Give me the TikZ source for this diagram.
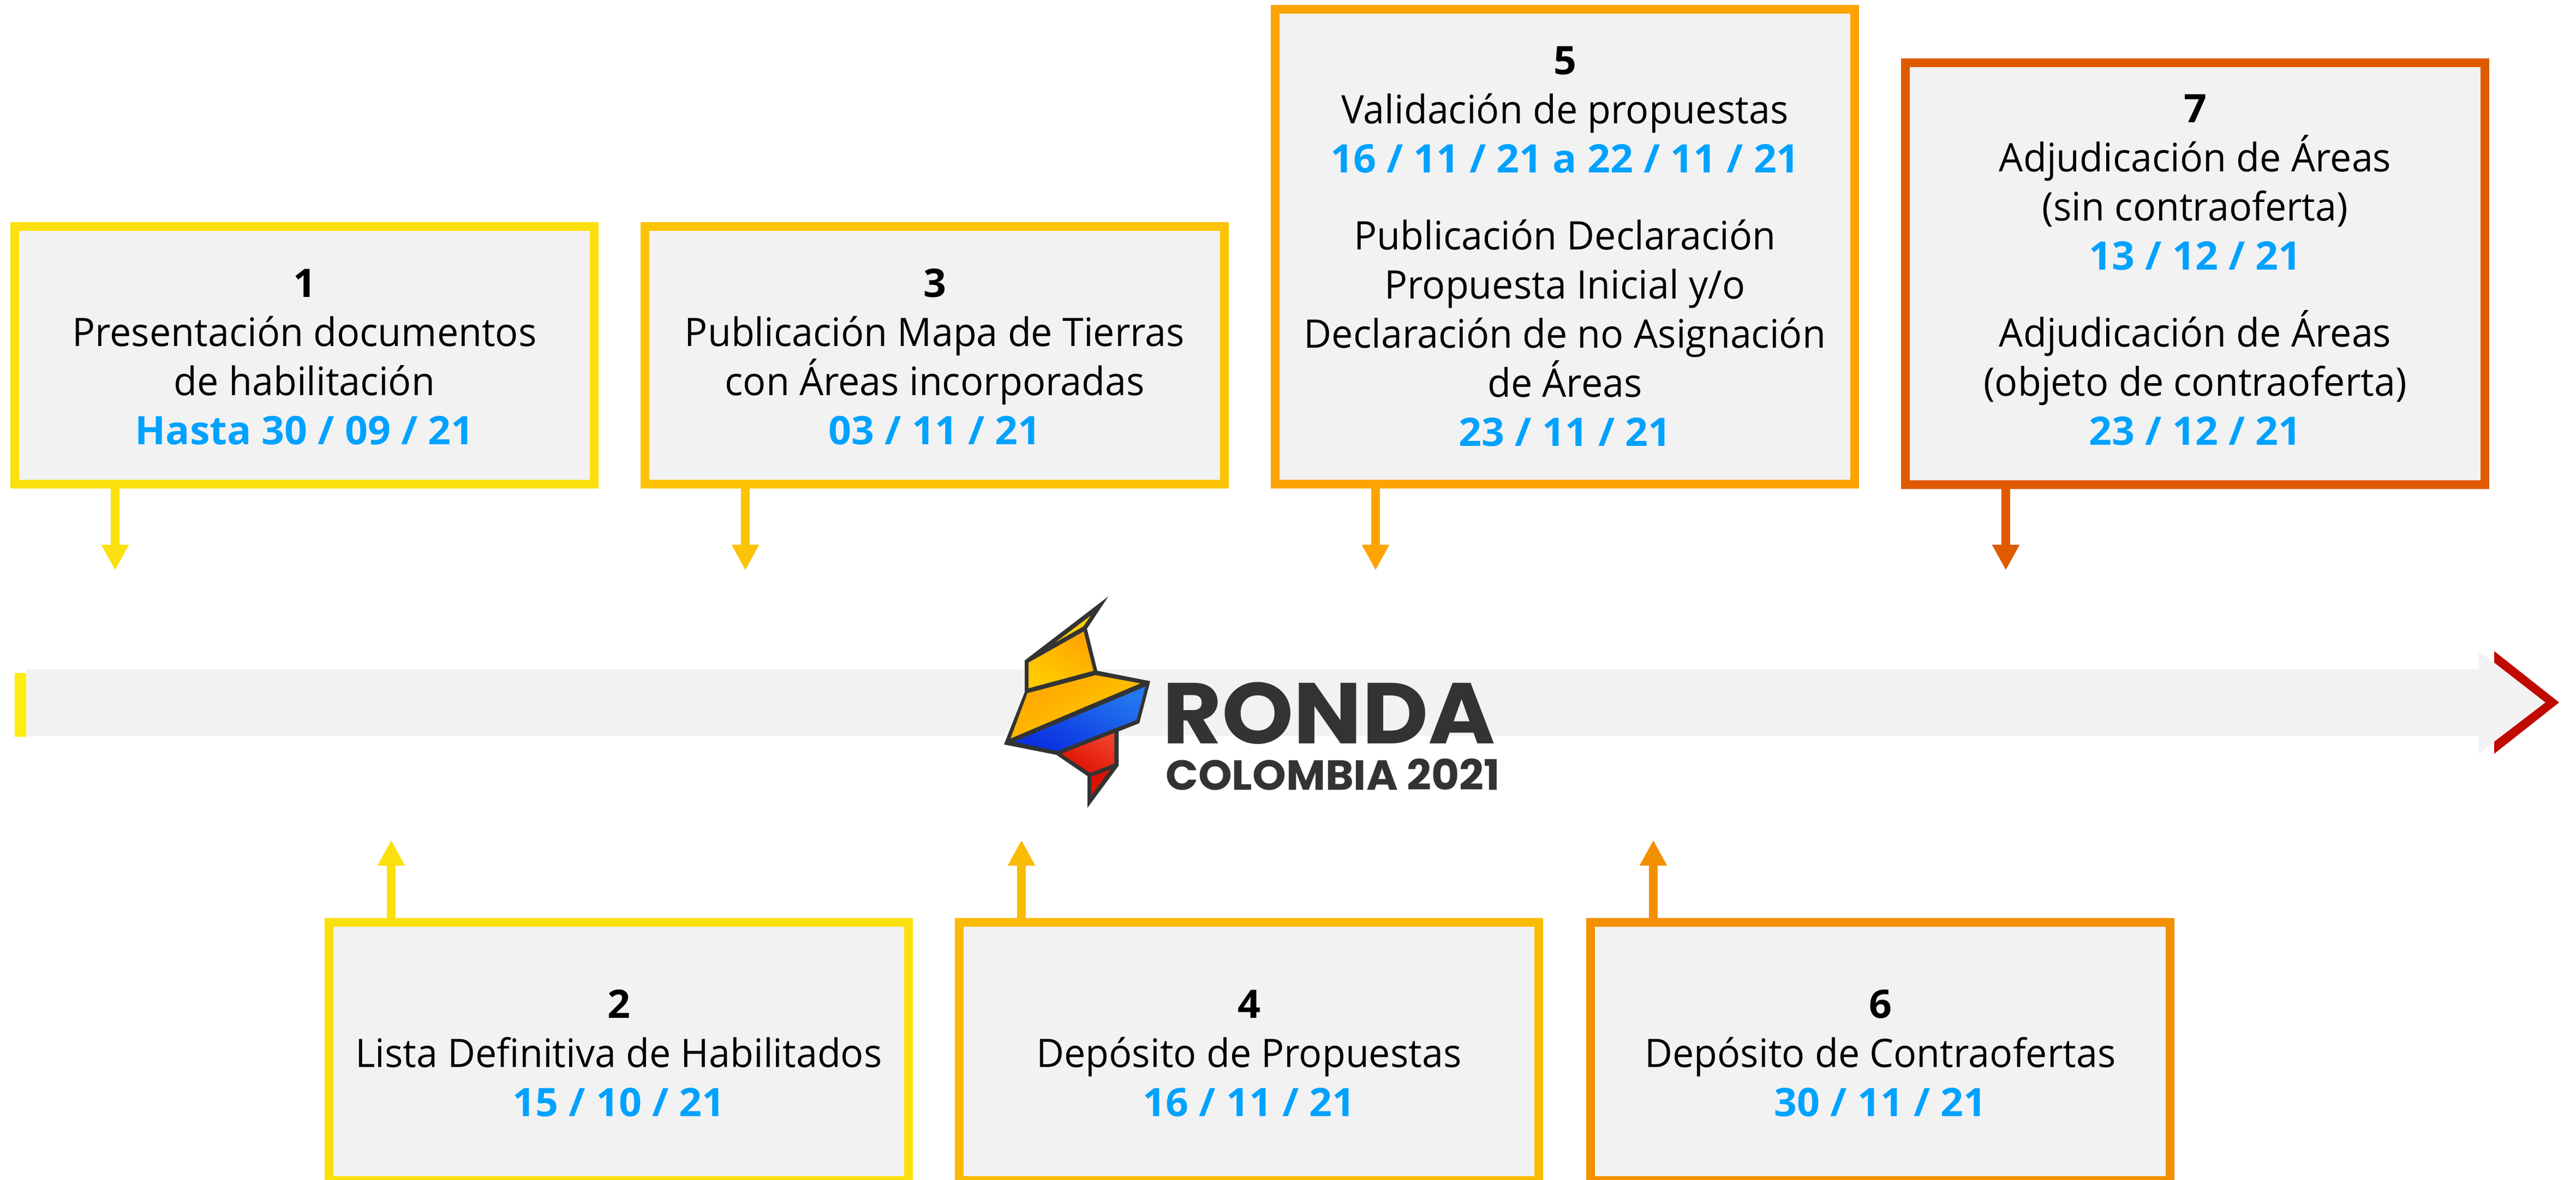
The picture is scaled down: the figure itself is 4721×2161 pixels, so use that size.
\documentclass[tikz,border=0pt]{standalone}
\usepackage{fontspec}
\setmainfont[FakeStretch=0.972,BoldFeatures={FakeStretch=1.02}]{Open Sans}
\newfontfamily\logofont[FakeStretch=1.058]{Poppins}
\newfontfamily\logofontb[FakeStretch=1.02]{Poppins}
\usetikzlibrary{arrows.meta,calc}
\definecolor{boxgrey}{HTML}{F2F2F2}
\definecolor{datecol}{HTML}{00A2FF}
\definecolor{colA}{HTML}{FBE00E}
\definecolor{colB}{HTML}{FDC305}
\definecolor{colBb}{HTML}{FABB03}
\definecolor{colC}{HTML}{FDA402}
\definecolor{colD}{HTML}{F39000}
\definecolor{colE}{HTML}{E05A00}
\definecolor{logodark}{HTML}{333333}
\definecolor{startcol}{HTML}{FFED10}
\definecolor{endcol}{HTML}{C00A00}
\definecolor{goldA}{HTML}{FFA500}
\definecolor{goldB}{HTML}{FFCC00}
\definecolor{blueA}{HTML}{2277EE}
\definecolor{blueB}{HTML}{0A30E0}
\definecolor{redA}{HTML}{F04028}
\definecolor{redB}{HTML}{DD1100}
\newcommand{\dt}[1]{{\bfseries\color{datecol}#1}}
\newcommand{\upstrutA}{\rule{0pt}{58pt}}
\newcommand{\downstrut}{\rule[-14pt]{0pt}{1pt}}
\tikzset{
 x=1pt,y=-1pt,
 stagebox/.style={draw=#1,fill=boxgrey,line width=16pt,rectangle,outer sep=0pt,inner sep=0pt,
   minimum width=1062pt,align=center,font=\fontsize{72}{90}\selectfont,text=black},
 conn/.style={draw=#1,line width=16pt,-{Triangle[length=47pt,width=47pt]}},
}
\begin{document}
\begin{tikzpicture}
\useasboundingbox (0,0) rectangle (4721,2161);
% timeline
\fill[boxgrey] (48,1226) -- (4543,1226) -- (4543,1193) -- (4665,1287) -- (4543,1381) -- (4543,1348) -- (48,1348) -- cycle;
\fill[startcol] (27,1233) rectangle (48,1350);
\fill[endcol] (4571,1193) -- (4690,1287) -- (4571,1381) -- (4571,1359) -- (4665,1287) -- (4571,1214) -- cycle;
% boxes
\node[stagebox=colA,minimum height=472pt] (b1) at (558,651) {{\bfseries 1}\upstrutA\\Presentación documentos\\de habilitación\\\dt{Hasta 30 / 09 / 21}};
\node[stagebox=colB,minimum height=472pt] (b3) at (1713,651) {{\bfseries 3}\upstrutA\\Publicación Mapa de Tierras\\con Áreas incorporadas\\\dt{03 / 11 / 21}};
\node[stagebox=colC,minimum height=870pt] (b5) at (2868,452) {{\bfseries 5}\\Validación de propuestas\\\dt{16 / 11 / 21 a 22 / 11 / 21}\\[51pt]Publicación Declaración\\Propuesta Inicial y/o\\Declaración de no Asignación\\de Áreas\\\dt{23 / 11 / 21}};
\node[stagebox=colE,minimum height=773pt] (b7) at (4023,501) {{\bfseries 7}\\Adjudicación de Áreas\\(sin contraoferta)\\\dt{13 / 12 / 21}\\[51pt]Adjudicación de Áreas\\(objeto de contraoferta)\\\dt{23 / 12 / 21}\downstrut};
\node[stagebox=colA,minimum height=473pt] (b2) at (1134,1926.5) {{\bfseries 2}\upstrutA\\Lista Definitiva de Habilitados\\\dt{15 / 10 / 21}};
\node[stagebox=colBb,minimum height=473pt] (b4) at (2289,1926.5) {{\bfseries 4}\upstrutA\\Depósito de Propuestas\\\dt{16 / 11 / 21}};
\node[stagebox=colD,minimum height=473pt] (b6) at (3446,1926.5) {{\bfseries 6}\upstrutA\\Depósito de Contraofertas\\\dt{30 / 11 / 21}};
% connectors
\coordinate (e1) at (211,1045);
\coordinate (e3) at (1366,1045);
\coordinate (e5) at (2521,1045);
\coordinate (e7) at (3676,1045);
\coordinate (e2) at (717,1539);
\coordinate (e4) at (1872,1539);
\coordinate (e6) at (3030,1539);
\draw[conn=colA] (e1 |- b1.south) -- (e1);
\draw[conn=colB] (e3 |- b3.south) -- (e3);
\draw[conn=colC] (e5 |- b5.south) -- (e5);
\draw[conn=colE] (e7 |- b7.south) -- (e7);
\draw[conn=colA] (e2 |- b2.north) -- (e2);
\draw[conn=colBb] (e4 |- b4.north) -- (e4);
\draw[conn=colD] (e6 |- b6.north) -- (e6);
% logo
\fill[logodark] (2031,1093) -- (1878,1210) -- (1878,1268) -- (1840,1364) -- (1936,1383) -- (1993,1422) -- (1993,1480) -- (2050,1403) -- (2050,1340) -- (2088,1325) -- (2108,1248) -- (2011,1229) -- (1992,1152) -- cycle;
\fill[goldB] (1999,1128) -- (1985,1148) -- (1934,1177) -- cycle;
\shade[left color=goldA,right color=goldB,shading angle=-30] (1986,1157) -- (1885,1214) -- (1885,1261) -- (2004,1229) -- cycle;
\shade[left color=goldA,right color=goldB,shading angle=30] (2008,1237) -- (1883,1270) -- (1852,1353) -- (2090,1252) -- cycle;
\shade[left color=blueA,right color=blueB,shading angle=-30] (2099,1258) -- (1859,1359) -- (1937,1376) -- (2083,1319) -- cycle;
\shade[left color=redA,right color=redB,shading angle=-30] (2042,1343) -- (1945,1381) -- (1998,1416) -- (2042,1399) -- cycle;
\fill[redB] (2035,1410) -- (2000,1423) -- (2000,1457) -- cycle;
\node[anchor=base west,inner sep=0pt,text=logodark,font=\logofont\bfseries\fontsize{158}{158}\selectfont] (ronda) at (2130,1362) {RONDA};
\node[anchor=base west,inner sep=0pt,text=logodark,font=\logofontb\bfseries\fontsize{77}{77}\selectfont] (colombia) at (2136,1447) {COLOMBIA 2021};
\end{tikzpicture}
\end{document}
